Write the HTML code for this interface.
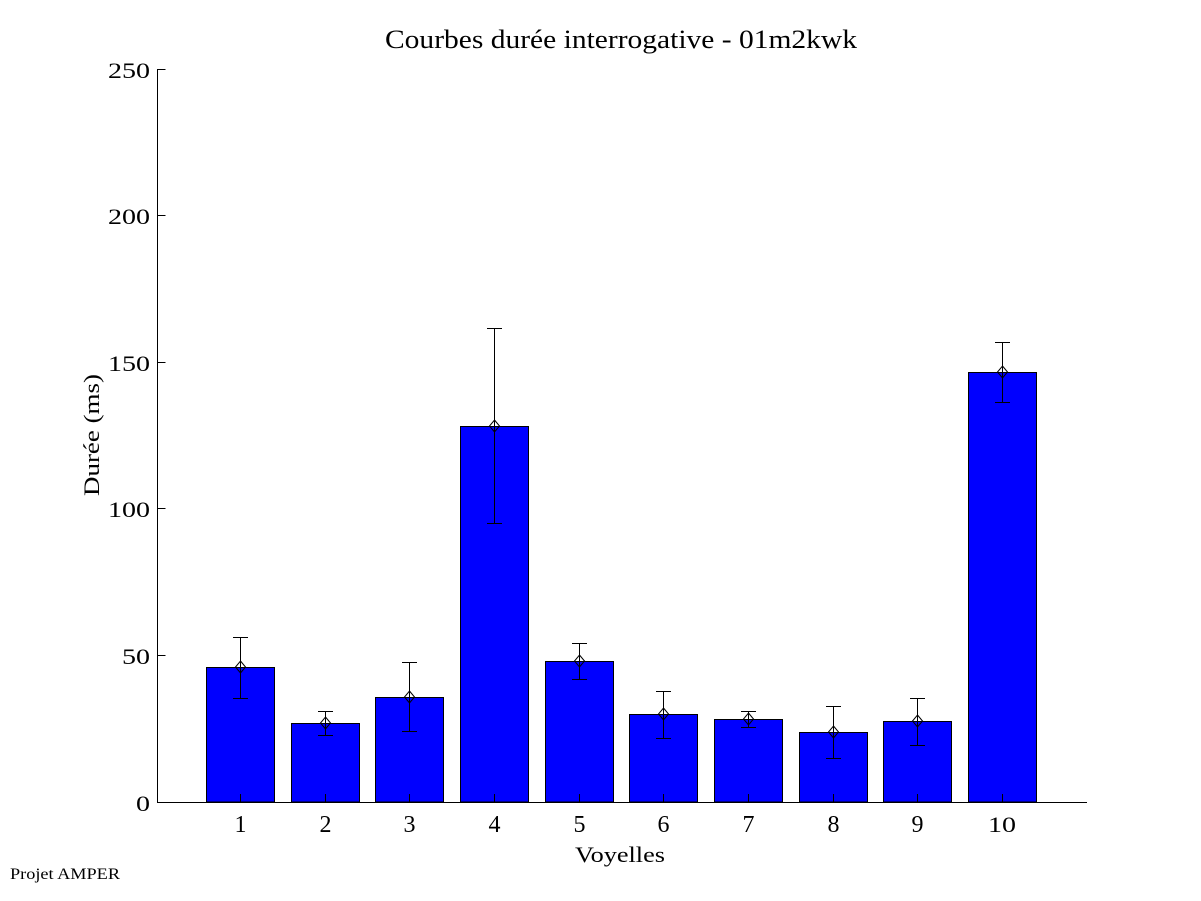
<!DOCTYPE html>
<html><head><meta charset="utf-8"><style>
html,body{margin:0;padding:0;background:#fff;}
svg{display:block;}
text{font-family:"Liberation Serif",serif;fill:#000;}
</style></head><body>
<svg width="1201" height="901" viewBox="0 0 1201 901" xmlns="http://www.w3.org/2000/svg">
<rect width="1201" height="901" fill="#fff"/>
<text x="385" y="48" font-size="26" textLength="472" lengthAdjust="spacingAndGlyphs">Courbes durée interrogative - 01m2kwk</text>
<g fill="#0000ff" stroke="#000" stroke-width="1">
<rect x="206.5" y="667.5" width="68" height="134.5"/>
<rect x="291.5" y="723.5" width="68" height="78.5"/>
<rect x="375.5" y="697.5" width="68" height="104.5"/>
<rect x="460.5" y="426.5" width="68" height="375.5"/>
<rect x="545.5" y="661.5" width="68" height="140.5"/>
<rect x="629.5" y="714.5" width="68" height="87.5"/>
<rect x="714.5" y="719.5" width="68" height="82.5"/>
<rect x="799.5" y="732.5" width="68" height="69.5"/>
<rect x="883.5" y="721.5" width="68" height="80.5"/>
<rect x="968.5" y="372.5" width="68" height="429.5"/>
</g>
<g stroke="#000" stroke-width="1" fill="none">
<path d="M157.5,69 V802.5 H1087"/>
<path d="M157.5,69.5h8M157.5,215.5h8M157.5,362.5h8M157.5,508.5h8M157.5,655.5h8"/>
<path d="M240.5,802v-8M325.5,802v-8M409.5,802v-8M494.5,802v-8M579.5,802v-8M663.5,802v-8M748.5,802v-8M833.5,802v-8M917.5,802v-8M1002.5,802v-8"/>
</g>
<g stroke="#000" stroke-width="1" fill="none">
<path d="M240.5,637.5V698.5M233,637.5h15M233,698.5h15"/>
<path d="M325.5,711.5V735.5M318,711.5h15M318,735.5h15"/>
<path d="M409.5,662.5V731.5M402,662.5h15M402,731.5h15"/>
<path d="M494.5,328.5V523.5M487,328.5h15M487,523.5h15"/>
<path d="M579.5,643.5V679.5M572,643.5h15M572,679.5h15"/>
<path d="M663.5,691.5V738.5M656,691.5h15M656,738.5h15"/>
<path d="M748.5,711.5V727.5M741,711.5h15M741,727.5h15"/>
<path d="M833.5,706.5V758.5M826,706.5h15M826,758.5h15"/>
<path d="M917.5,698.5V745.5M910,698.5h15M910,745.5h15"/>
<path d="M1002.5,342.5V402.5M995,342.5h15M995,402.5h15"/>
<path d="M240.5,661l5,6l-5,6l-5,-6z"/>
<path d="M325.5,717l5,6l-5,6l-5,-6z"/>
<path d="M409.5,691l5,6l-5,6l-5,-6z"/>
<path d="M494.5,420l5,6l-5,6l-5,-6z"/>
<path d="M579.5,655l5,6l-5,6l-5,-6z"/>
<path d="M663.5,708l5,6l-5,6l-5,-6z"/>
<path d="M748.5,713l5,6l-5,6l-5,-6z"/>
<path d="M833.5,726l5,6l-5,6l-5,-6z"/>
<path d="M917.5,715l5,6l-5,6l-5,-6z"/>
<path d="M1002.5,366l5,6l-5,6l-5,-6z"/>
</g>
<g font-size="22">
<text x="108" y="78" textLength="42" lengthAdjust="spacingAndGlyphs">250</text>
<text x="108" y="224" textLength="42" lengthAdjust="spacingAndGlyphs">200</text>
<text x="108" y="371" textLength="42" lengthAdjust="spacingAndGlyphs">150</text>
<text x="108" y="517" textLength="42" lengthAdjust="spacingAndGlyphs">100</text>
<text x="122" y="664" textLength="28" lengthAdjust="spacingAndGlyphs">50</text>
<text x="136" y="811" textLength="14" lengthAdjust="spacingAndGlyphs">0</text>
</g>
<g font-size="24" text-anchor="middle">
<text x="240.5" y="832">1</text>
<text x="325.5" y="832">2</text>
<text x="409.5" y="832">3</text>
<text x="494.5" y="832">4</text>
<text x="579.5" y="832">5</text>
<text x="663.5" y="832">6</text>
<text x="748.5" y="832">7</text>
<text x="833.5" y="832">8</text>
<text x="917.5" y="832">9</text>
</g>
<g font-size="22">
<text x="988" y="832" textLength="28" lengthAdjust="spacingAndGlyphs">10</text>
<text x="575" y="862" textLength="90" lengthAdjust="spacingAndGlyphs">Voyelles</text>
<text transform="translate(99,496) rotate(-90)" textLength="122" lengthAdjust="spacingAndGlyphs">Durée (ms)</text>
</g>
<text x="10" y="879" font-size="16" textLength="110" lengthAdjust="spacingAndGlyphs">Projet AMPER</text>
</svg>
</body></html>
